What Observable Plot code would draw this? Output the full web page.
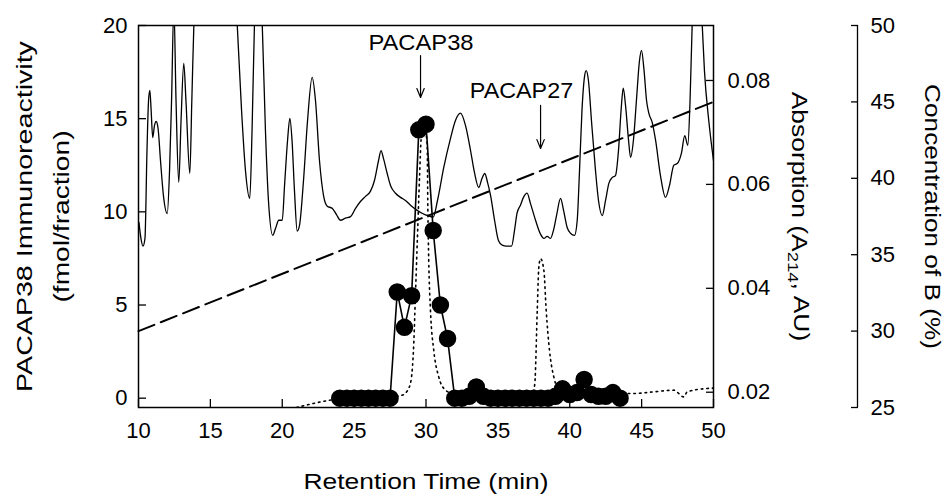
<!DOCTYPE html>
<html><head><meta charset="utf-8">
<script src="https://cdn.jsdelivr.net/npm/d3@7"></script>
<script src="https://cdn.jsdelivr.net/npm/@observablehq/plot@0.6"></script>
<style>
html,body{margin:0;padding:0;background:#fff;}
#chart svg{font-family:"Liberation Sans", Arial, Helvetica, sans-serif;}
</style></head><body><div id="chart"></div>
<script>
// ---- data ----
const fractionTime = [24,24.5,25,25.5,26,26.5,27,27.5,28,28.5,29,29.5,30,30.5,31,31.5,32,32.5,33,33.5,34,34.5,35,35.5,36,36.5,37,37.5,38,38.5,39,39.5,40,40.5,41,41.5,42,42.5,43,43.5];
const immunoreactivity = [0,0,0,0,0,0,0,0,5.7,3.8,5.5,14.4,14.7,9.0,5.0,3.2,0,0,0.1,0.6,0.1,0,0,0,0,0,0,0,0,0,0.1,0.5,0.2,0.3,1.0,0.2,0.1,0.1,0.3,0];

const absTime = [10.03,10.17,10.31,10.45,10.59,10.70,10.79,10.88,10.99,11.11,11.23,11.36,11.53,11.74,12.00,12.16,12.30,12.46,12.61,12.80,12.96,13.15,13.30,13.57,13.71,13.86,14.03,16.68,16.87,17.17,17.44,17.74,17.90,18.07,18.24,18.45,18.61,18.83,19.04,19.34,19.53,19.76,20.00,20.16,20.37,20.53,20.68,20.85,21.04,21.20,21.48,21.76,22.08,22.31,22.59,22.87,23.13,23.47,23.77,24.05,24.40,24.75,25.10,25.44,25.79,26.14,26.42,26.70,26.87,27.04,27.30,27.53,27.88,28.23,28.57,28.92,29.39,29.76,30.10,30.50,30.80,31.24,31.70,32.05,32.40,32.75,33.10,33.37,33.67,33.90,34.09,34.28,34.49,34.77,35.04,35.30,35.60,35.95,36.16,36.33,36.57,36.78,37.03,37.27,37.62,37.97,38.20,38.43,38.66,38.87,39.08,39.36,39.57,39.82,40.05,40.33,40.52,40.68,40.85,41.03,41.14,41.30,41.51,41.79,42.00,42.26,42.49,42.72,42.95,43.18,43.39,43.57,43.72,43.88,44.09,44.23,44.43,44.64,44.85,44.99,45.17,45.34,45.50,45.74,45.97,46.31,46.66,46.94,47.24,47.48,47.77,48.00,48.21,48.37,48.52,48.68,49.03,49.21,49.37,49.67,50.00];
const absorbance = [0.0527,0.0496,0.0481,0.0496,0.0665,0.0762,0.0781,0.0742,0.0690,0.0713,0.0721,0.0708,0.0646,0.0577,0.0544,0.0627,0.0762,0.0944,0.0762,0.0604,0.0723,0.0833,0.0762,0.0621,0.0762,0.0915,0.0992,0.0992,0.0906,0.0742,0.0627,0.0573,0.0704,0.0912,0.0992,0.0992,0.0906,0.0704,0.0569,0.0502,0.0515,0.0531,0.0531,0.0598,0.0685,0.0727,0.0685,0.0588,0.0510,0.0521,0.0608,0.0723,0.0806,0.0762,0.0646,0.0579,0.0558,0.0554,0.0542,0.0531,0.0535,0.0538,0.0554,0.0567,0.0577,0.0587,0.0608,0.0646,0.0665,0.0650,0.0621,0.0598,0.0583,0.0575,0.0569,0.0560,0.0550,0.0544,0.0540,0.0537,0.0569,0.0633,0.0688,0.0723,0.0737,0.0713,0.0665,0.0623,0.0594,0.0612,0.0621,0.0604,0.0579,0.0531,0.0492,0.0483,0.0481,0.0481,0.0512,0.0544,0.0560,0.0575,0.0583,0.0563,0.0531,0.0504,0.0496,0.0500,0.0496,0.0512,0.0540,0.0573,0.0550,0.0517,0.0506,0.0502,0.0531,0.0627,0.0742,0.0808,0.0819,0.0800,0.0723,0.0627,0.0569,0.0540,0.0569,0.0602,0.0613,0.0617,0.0665,0.0742,0.0785,0.0752,0.0685,0.0652,0.0685,0.0762,0.0838,0.0858,0.0819,0.0762,0.0737,0.0719,0.0685,0.0617,0.0575,0.0598,0.0637,0.0640,0.0660,0.0694,0.0675,0.0762,0.0910,0.0992,0.0992,0.0910,0.0819,0.0723,0.0646];

const standardTime = [21.0,23.4,24.5,27.5,28.3,28.57,28.92,29.15,29.27,29.39,29.55,29.67,29.85,30.08,30.13,30.19,30.31,30.54,30.89,31.36,31.82,33,35,37.41,37.57,37.74,37.85,37.97,38.20,38.36,38.59,38.89,39.13,40,42,44.46,45.85,47.24,47.93,48.17,49.56,50];
const standardSignal = [-0.5,-0.1,0.0,0.05,0.15,0.27,0.80,2.95,5.63,8.31,11.85,13.99,14.64,13.67,10.08,7.40,4.72,2.57,1.13,0.43,0.27,0.2,0.2,0.2,0.79,4.72,7.04,7.49,6.86,4.72,2.57,1.14,0.61,0.3,0.25,0.25,0.34,0.43,0.07,0.34,0.52,0.54];

const gradientTime = [10, 50];
const gradientB = [30, 45];

const xTicks = [10,15,20,25,30,35,40,45,50];
const immunoTicks = [0,5,10,15,20];
const absTicks = [0.02,0.04,0.06,0.08];
const bTicks = [25,30,35,40,45,50];

const annotLabels = ["PACAP38", "PACAP27"];
const annotTextTime = [29.65, 36.64];
const annotTextLevel = [19.06, 16.5];
const annotArrowTime = [29.62, 37.97];
const annotArrowFrom = [18.39, 15.71];
const annotArrowTo = [16.14, 13.40];

// ---- scale relations between the three y axes (left-axis units) ----
const yDomain = [-0.5, 20];
const absToL = a => 0.32 + (a - 0.02) * (16.73 / 0.06);
const lToAbs = l => 0.02 + (l - 0.32) * (0.06 / 16.73);
const bToL = b => yDomain[0] + (b - 25) * ((yDomain[1] - yDomain[0]) / 25);
const lToB = l => 25 + (l - yDomain[0]) * (25 / (yDomain[1] - yDomain[0]));

const fractions = fractionTime.map((t, i) => ({t, v: immunoreactivity[i]}));
const absData = absTime.map((t, i) => ({t, v: absToL(absorbance[i])}));
const stdData = standardTime.map((t, i) => ({t, v: standardSignal[i]}));
const gradData = gradientTime.map((t, i) => ({t, v: bToL(gradientB[i])}));
const annots = annotLabels.map((label, i) => ({label, tt: annotTextTime[i], tl: annotTextLevel[i], at: annotArrowTime[i], a1: annotArrowFrom[i], a2: annotArrowTo[i]}));

const FS = 22;
const chart = Plot.plot({
  width: 947, height: 497,
  marginLeft: 138, marginRight: 234, marginTop: 25, marginBottom: 90,
  style: {fontFamily: '"Liberation Sans", Arial, sans-serif', fontSize: FS + "px", background: "white", overflow: "visible"},
  x: {domain: [10, 50]},
  y: {domain: yDomain},
  marks: [
    Plot.line(absData, {x: "t", y: "v", stroke: "black", strokeWidth: 1.3, curve: "monotone-x", clip: true}),
    Plot.line(gradData, {x: "t", y: "v", stroke: "black", strokeWidth: 2, strokeDasharray: "17,7"}),
    Plot.line(stdData, {x: "t", y: "v", stroke: "black", strokeWidth: 1.6, strokeDasharray: "1.6,4", curve: "monotone-x", clip: true}),
    Plot.line(fractions, {x: "t", y: "v", stroke: "black", strokeWidth: 1.6}),
    Plot.dot(fractions, {x: "t", y: "v", r: 8, fill: "black", stroke: "black"}),
    Plot.frame({stroke: "black", strokeWidth: 1.5}),
    Plot.axisX({ticks: xTicks, tickSize: -8, tickPadding: 23, fontSize: FS, label: null, strokeWidth: 1.3}),
    Plot.axisY({ticks: immunoTicks, anchor: "left", tickSize: -8, tickPadding: 19, fontSize: FS, label: null, strokeWidth: 1.3}),
    Plot.axisY({ticks: absTicks.map(absToL), anchor: "right", tickSize: -8, tickPadding: 22, fontSize: FS, label: null, strokeWidth: 1.3,
      tickFormat: d => lToAbs(d).toFixed(2)}),
    Plot.axisY({ticks: bTicks.map(bToL), anchor: "right", tickSize: 7, tickPadding: 13, dx: 137, fontSize: FS, label: null, strokeWidth: 1.3,
      tickFormat: d => String(Math.round(lToB(d)))}),
    Plot.ruleX([50], {y1: yDomain[0], y2: yDomain[1], dx: 144, stroke: "black", strokeWidth: 1.3}),
    Plot.arrow(annots, {x: "at", y1: "a1", y2: "a2", stroke: "black", strokeWidth: 1.2, headLength: 12, headAngle: 45}),
    Plot.text(annots, {x: "tt", y: "tl", text: "label", fontSize: FS, fill: "black"}),
    Plot.text(["Retention Time (min)"], {frameAnchor: "bottom", textAnchor: "middle", dy: 81, lineAnchor: "bottom", fontSize: FS, fill: "black"}),
    Plot.text(["PACAP38 Immunoreactivity"], {frameAnchor: "left", textAnchor: "middle", dx: -114, rotate: -90, fontSize: FS, fill: "black"}),
    Plot.text(["(fmol/fraction)"], {frameAnchor: "left", textAnchor: "middle", dx: -77, rotate: -90, fontSize: FS, fill: "black"}),
    Plot.text(["Absorption (A214, AU)"], {frameAnchor: "right", textAnchor: "middle", dx: 86, rotate: 90, fontSize: FS, fill: "black"}),
    Plot.text(["Concentration of B (%)"], {frameAnchor: "right", textAnchor: "middle", dx: 219, rotate: 90, fontSize: FS, fill: "black"})
  ]
});
document.getElementById("chart").appendChild(chart);

const svg = d3.select(chart);
// subscript for A214
svg.selectAll("text").filter(function() { return this.textContent === "Absorption (A214, AU)"; })
  .each(function() {
    const t = d3.select(this);
    t.text(null);
    t.append("tspan").text("Absorption (A");
    t.append("tspan").attr("font-size", "0.7em").attr("dy", "0.3em").text("214");
    t.append("tspan").attr("dy", "-0.3em").text(", AU)");
  });
// the reference's lettering is drawn wider than the font's natural width
const stretch = {
  "Retention Time (min)": 1.2,
  "PACAP38 Immunoreactivity": 1.3,
  "(fmol/fraction)": 1.28,
  "Absorption (A214, AU)": 1.2,
  "Concentration of B (%)": 1.19,
  "PACAP38": 1.08,
  "PACAP27": 1.06
};
svg.selectAll("text").each(function() {
  const f = stretch[this.textContent];
  if (!f) return;
  const len = this.getComputedTextLength();
  d3.select(this).attr("textLength", (len * f).toFixed(1)).attr("lengthAdjust", "spacingAndGlyphs");
});
</script></body></html>
